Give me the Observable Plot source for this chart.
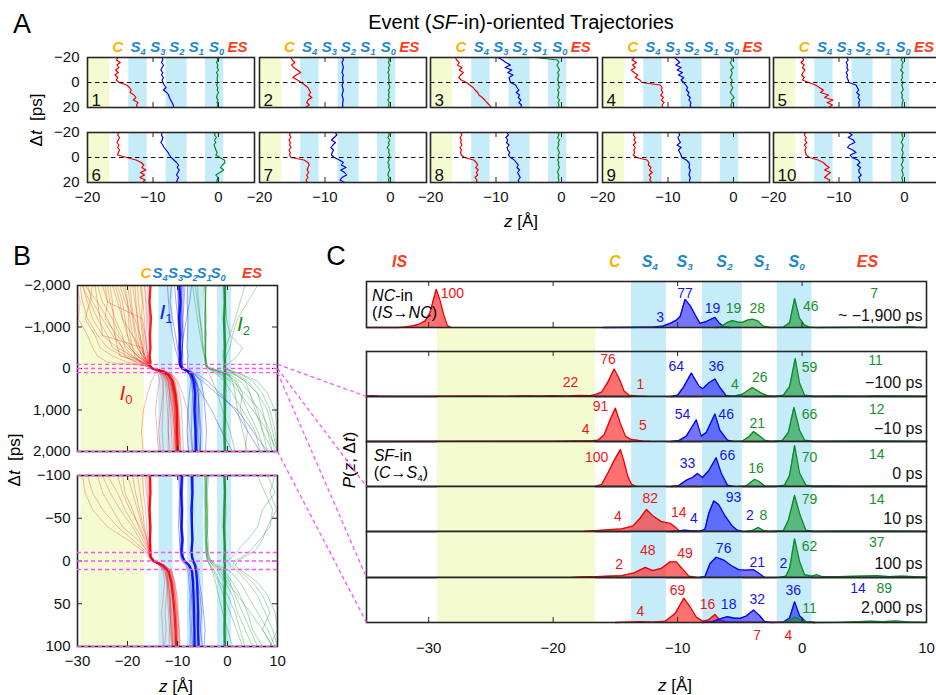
<!DOCTYPE html>
<html><head><meta charset="utf-8">
<script src="https://cdn.jsdelivr.net/npm/d3@7"></script>
<script src="https://cdn.jsdelivr.net/npm/@observablehq/plot@0.6"></script>
<style>
html,body{margin:0;padding:0;background:#fff;}
#fig{position:relative;width:936px;height:695px;overflow:hidden;font-family:"Liberation Sans",Arial,Helvetica,sans-serif;color:#000;}
#fig svg{position:absolute;overflow:visible;}
.t{position:absolute;white-space:nowrap;line-height:1.05;}
.st{font-weight:bold;font-style:italic;}
sub{font-size:62%;position:relative;top:0.3em;vertical-align:baseline;line-height:0;}
</style></head><body><div id="fig"></div>
<script>
// ---------------- data ----------------
const stateNames = ["C","S4","S3","S2","S1","S0","ES"];
const stateZA = [-15.3,-12.2,-9.2,-6.3,-3.3,-0.2,3.0];
const stateZB = [-16.2,-13.4,-10.3,-7.4,-4.6,-1.8,5.0];
const stateZC = [-15.0,-12.2,-9.4,-6.2,-3.2,-0.4,5.3];
const isZC = -32.3;

const zoneKinds = ["C","S4","S2","S0"];
const zoneZ1 = [-29.3,-13.7,-8.0,-2.0];
const zoneZ2 = [-16.6,-10.9,-4.8,0.8];

// Panel A: event-oriented trajectories, dt grid [ps]
const dtA = [-20,-18,-16,-14,-12,-10,-8,-6,-4,-2,0,2,4,6,8,10,12,14,16,18,20];
const trajA_red = [
 [-15.3,-15.6,-15.0,-15.5,-15.2,-15.7,-15.3,-15.8,-15.4,-15.6,-15.2,-14.0,-13.6,-13.3,-13.5,-12.9,-12.6,-13.0,-12.3,-12.5,-12.4],
 [-15.2,-15.0,-14.6,-15.1,-14.8,-14.2,-13.7,-14.4,-14.9,-14.2,-13.6,-13.1,-12.6,-12.4,-12.2,-12.5,-12.0,-12.6,-12.8,-12.4,-13.0],
 [-16.2,-16.0,-15.6,-15.9,-15.2,-15.6,-15.0,-15.4,-15.7,-15.3,-14.5,-14.0,-13.5,-13.2,-12.8,-12.6,-12.1,-11.7,-11.4,-11.0,-10.7],
 [-15.1,-15.5,-14.8,-15.4,-15.0,-15.6,-15.2,-14.6,-15.0,-14.3,-14.0,-11.2,-10.9,-11.0,-10.8,-11.1,-10.7,-11.0,-10.6,-10.9,-10.8],
 [-15.6,-15.4,-15.8,-15.3,-15.6,-15.2,-15.5,-15.7,-15.3,-15.6,-14.6,-13.6,-13.0,-12.4,-12.8,-11.6,-12.2,-10.9,-11.8,-11.0,-11.6],
 [-15.2,-15.4,-15.1,-15.3,-15.5,-15.2,-15.4,-15.1,-15.3,-15.4,-14.0,-12.6,-11.8,-11.4,-11.7,-11.1,-11.9,-11.3,-12.0,-11.2,-11.6],
 [-15.3,-15.4,-15.2,-15.5,-15.3,-15.4,-15.2,-15.5,-15.3,-15.4,-15.2,-13.2,-12.6,-12.4,-12.6,-12.7,-12.5,-12.8,-12.6,-12.9,-12.7],
 [-15.4,-15.2,-15.5,-15.3,-15.4,-15.2,-15.5,-15.3,-15.4,-15.3,-14.8,-13.4,-13.0,-12.8,-13.1,-12.7,-13.0,-12.8,-13.2,-12.9,-13.0],
 [-15.1,-15.3,-15.0,-15.2,-14.9,-15.3,-15.0,-15.2,-15.1,-15.3,-14.8,-13.2,-12.9,-13.0,-12.6,-12.8,-12.4,-12.9,-12.6,-12.8,-12.5],
 [-15.1,-15.3,-15.0,-15.2,-14.9,-15.3,-15.0,-15.2,-15.1,-15.0,-14.5,-13.2,-12.4,-12.0,-11.5,-12.2,-11.3,-11.8,-12.2,-11.4,-11.6]
];
const trajA_blue = [
 [-8.6,-8.5,-8.7,-8.4,-8.6,-8.8,-8.5,-8.7,-8.4,-8.6,-8.5,-8.3,-8.0,-8.4,-7.9,-7.6,-7.5,-7.3,-7.1,-6.9,-6.9],
 [-7.3,-7.2,-7.4,-7.3,-7.2,-7.3,-7.4,-7.2,-7.3,-7.3,-7.2,-7.4,-7.3,-7.2,-7.3,-7.4,-7.3,-7.2,-7.3,-7.3,-7.3],
 [-9.7,-9.0,-8.5,-7.8,-8.6,-7.6,-8.2,-7.4,-8.0,-7.9,-7.8,-7.0,-6.8,-6.5,-6.9,-6.4,-6.6,-6.2,-6.5,-6.1,-6.2],
 [-9.0,-8.6,-8.2,-8.8,-8.0,-8.6,-7.8,-8.4,-7.6,-8.0,-7.6,-7.3,-7.0,-7.2,-6.8,-7.0,-6.6,-6.8,-6.5,-6.6,-6.5],
 [-8.8,-8.6,-8.9,-8.7,-8.8,-8.6,-8.9,-8.7,-8.8,-8.6,-8.5,-7.4,-7.2,-7.0,-7.3,-6.9,-7.1,-6.8,-7.0,-6.9,-7.0],
 [-8.6,-8.7,-8.5,-8.6,-8.8,-8.5,-8.3,-8.0,-7.7,-7.5,-7.2,-6.8,-6.4,-6.1,-6.3,-6.0,-6.2,-6.4,-6.1,-6.3,-6.4],
 [-8.4,-8.2,-8.6,-9.0,-8.4,-8.8,-9.1,-8.7,-8.9,-9.0,-8.6,-7.8,-7.2,-7.5,-6.8,-7.6,-7.0,-6.7,-7.4,-7.7,-7.0],
 [-8.3,-8.1,-8.5,-8.2,-8.4,-8.0,-8.3,-8.2,-7.9,-8.1,-7.8,-7.2,-6.9,-6.6,-6.8,-6.4,-6.7,-6.5,-6.3,-6.6,-6.5],
 [-8.4,-8.2,-8.5,-8.3,-8.1,-8.6,-8.0,-8.4,-8.2,-8.0,-7.9,-7.2,-6.8,-6.7,-6.8,-6.6,-6.7,-6.8,-6.6,-6.7,-6.7],
 [-8.5,-8.0,-8.6,-7.8,-7.6,-8.4,-8.7,-7.9,-7.4,-8.3,-8.0,-7.1,-6.8,-7.2,-6.7,-7.0,-6.9,-6.6,-7.0,-6.8,-6.9]
];
const trajA_green = [
 [-0.2,-0.1,-0.3,-0.1,-0.2,0.0,-0.3,-0.1,-0.2,-0.2,-0.1,-0.3,-0.1,-0.2,0.0,-0.2,-0.3,-0.1,-0.2,-0.1,-0.2],
 [-0.3,-0.2,-0.3,-0.1,-0.3,-0.2,-0.4,-0.2,-0.3,-0.2,-0.3,-0.2,-0.1,-0.3,-0.2,-0.3,-0.2,-0.4,-0.2,-0.3,-0.2],
 [-4.0,-0.6,-0.4,-0.7,-0.5,-0.3,-0.6,-0.4,-0.5,-0.6,-0.4,-0.5,-0.3,-0.6,-0.4,-0.5,-0.6,-0.3,-0.5,-0.4,-0.5],
 [-0.4,-0.2,-0.5,-0.3,0.0,-0.4,-0.2,-0.3,-0.5,-0.2,-0.3,-0.4,-0.1,-0.3,-0.5,-0.2,0.1,-0.3,-0.2,-0.4,-0.3],
 [-0.3,-0.5,-0.2,-0.4,-0.3,-0.6,-0.2,-0.4,-0.3,-0.5,-0.2,-0.4,-0.3,-0.2,-0.5,-0.3,-0.4,-0.2,-0.3,-0.4,-0.3],
 [-0.5,-0.6,-0.3,-0.6,-0.4,-0.7,-0.5,-0.4,-0.2,-0.4,0.2,0.9,1.0,0.6,0.3,0.8,0.2,-0.4,-0.1,-0.2,-0.3],
 [-0.3,-0.2,-0.4,-0.1,-0.3,-0.2,-0.5,-0.2,-0.3,-0.1,-0.3,-0.2,-0.4,-0.2,-0.3,-0.1,-0.3,-0.4,-0.2,-0.3,-0.2],
 [-0.5,-0.4,-0.6,-0.3,-0.5,-0.4,-0.6,-0.5,-0.3,-0.5,-0.4,-0.6,-0.4,-0.5,-0.3,-0.5,-0.6,-0.4,-0.5,-0.4,-0.5],
 null,
 [-0.3,-0.4,-0.2,-0.3,-0.5,-0.2,-0.3,-0.4,-0.2,-0.3,-0.4,-0.2,-0.3,-0.5,-0.2,-0.4,-0.3,-0.2,-0.4,-0.3,-0.3]
];

// Panel B (upper, ±2,000 ps)
const dtBU = [-2000,-1600,-1200,-800,-500,-300,-150,-60,0,60,150,300,600,1000,1500,2000];
const trajBU_red = [
 [-29,-28,-27,-25,-22,-19,-17,-15.6,-15.0,-13.4,-12.2,-11.4,-10.8,-10.2,-9.9,-10.0],
 [-27,-27.5,-26,-24,-23,-20,-16.5,-15.5,-14.8,-13.0,-11.8,-11.0,-10.5,-10.3,-10.2,-10.1],
 [-25,-24,-24.5,-22,-20,-18,-16,-15.5,-15.1,-13.6,-12.6,-11.8,-11.2,-10.7,-10.4,-10.2],
 [-23,-22,-21,-20,-19,-17.5,-16.2,-15.4,-14.9,-12.8,-11.5,-10.8,-10.2,-9.8,-9.6,-9.7],
 [-21,-20,-19.5,-19,-18,-17,-16,-15.5,-15.2,-13.8,-12.8,-12.2,-11.6,-11.0,-10.6,-10.4],
 [-19,-18.5,-18,-17.5,-17,-16.5,-15.8,-15.4,-14.9,-13.1,-11.9,-11.2,-10.8,-10.5,-10.2,-10.3],
 [-17.5,-17,-17.2,-16.8,-16.5,-16.2,-15.7,-15.5,-15.0,-13.5,-12.4,-11.9,-11.5,-11.2,-10.9,-10.7],
 [-29.5,-29,-28,-26,-24,-21,-18,-15.6,-14.9,-12.9,-11.6,-10.9,-10.4,-10.1,-9.9,-10.0],
 [-26,-25,-23,-21.5,-19.5,-18,-16.4,-15.5,-15.0,-13.3,-12.0,-11.3,-10.7,-10.4,-10.3,-10.2],
 [-24,-23.5,-22.5,-21,-20.5,-19,-17,-15.5,-15.1,-14.0,-13.4,-13.0,-12.8,-12.9,-13.1,-12.8],
 [-22,-21,-20.5,-20,-19.5,-18,-16.5,-15.4,-14.8,-12.6,-11.2,-10.5,-10.0,-9.7,-9.5,-9.4],
 [-20,-19.5,-19,-18.5,-18,-17,-16,-15.5,-15.0,-13.6,-12.4,-11.8,-11.6,-11.7,-11.9,-11.5],
 [-16,-15.8,-15.6,-15.5,-15.5,-15.4,-15.5,-15.4,-14.9,-13.2,-12.0,-11.1,-10.6,-10.3,-10.1,-10.0],
 [-15.7,-15.6,-15.7,-15.5,-15.6,-15.5,-15.6,-15.5,-15.0,-13.0,-11.7,-10.9,-10.4,-10.1,-10.0,-9.9],
 [-28,-27,-25,-23,-21,-19.5,-17.2,-15.6,-15.1,-13.9,-13.2,-12.8,-12.9,-13.3,-13.8,-13.4],
 [-18,-17.8,-17.4,-17,-16.8,-16.6,-16,-15.4,-14.8,-12.4,-10.9,-10.1,-9.6,-9.2,-9.0,-8.8],
 [-30,-29.5,-29.8,-28,-27,-26,-24,-16,-15.2,-13.8,-12.5,-11.6,-11.0,-10.6,-10.4,-10.2],
 [-28.5,-26,-24,-22.5,-21,-20.5,-18.5,-16.2,-15.0,-13.0,-11.9,-11.3,-10.9,-10.6,-10.5,-10.3],
 [-26.5,-26,-25.5,-25,-17,-16.5,-16,-15.6,-15.1,-13.7,-12.9,-12.3,-11.9,-11.5,-11.2,-11.0],
 [-24.5,-24,-17,-16.5,-16.2,-16,-15.8,-15.5,-14.9,-13.0,-11.7,-10.9,-10.3,-10.0,-9.7,-9.5],
 [-23.5,-23,-22.8,-22.5,-22,-21.5,-17,-15.7,-15.2,-13.9,-13.0,-12.5,-12.2,-12.0,-11.8,-11.9],
 [-22.5,-21.5,-21,-19,-17.5,-16.5,-16,-15.6,-15.0,-13.3,-12.1,-11.5,-11.1,-10.9,-10.6,-10.8],
 [-21.5,-20.5,-18.5,-17.5,-17,-16.8,-16.2,-15.6,-15.1,-14.2,-13.8,-13.6,-14.0,-14.4,-14.1,-13.8],
 [-20.5,-20,-19.8,-19.5,-19,-18.5,-17.5,-15.8,-15.0,-13.2,-12.3,-11.6,-10.9,-10.4,-10.1,-9.8],
 [-19.5,-19.2,-18.8,-18.2,-17.6,-17.2,-16.5,-15.6,-14.8,-12.6,-11.2,-10.6,-10.2,-9.9,-9.6,-9.3],
 [-18.5,-18.3,-18,-17.8,-17.2,-16.8,-16.2,-15.6,-15.2,-13.7,-12.7,-12.0,-11.4,-10.9,-10.7,-10.5],
 [-17.2,-16.9,-16.6,-16.5,-16.2,-16,-15.8,-15.5,-14.9,-12.9,-11.4,-10.7,-10.2,-10.0,-9.9,-9.8],
 [-16.6,-16.4,-16.2,-16.3,-16.1,-15.9,-15.7,-15.5,-15.0,-13.4,-12.1,-11.3,-10.8,-10.6,-10.4,-10.3],
 [-16.5,-16.2,-16,-15.8,-15.7,-15.6,-15.5,-15.5,-15.0,-13.0,-11.5,-10.0,-9.0,-8.0,-7.5,-7.0],
 [-29,-27.5,-28.5,-26.5,-25.5,-23,-20,-16.4,-15.1,-14.3,-14.6,-15.2,-16.0,-16.8,-17.2,-16.9]
];
const trajBU_blue = [
 [-9.6,-9.4,-9.5,-9.3,-9.5,-9.4,-9.5,-9.3,-9.0,-8.0,-7.2,-6.8,-6.6,-6.5,-6.4,-6.3],
 [-9.2,-9.3,-9.1,-9.2,-9.0,-9.2,-9.1,-9.0,-8.7,-7.8,-7.0,-6.5,-6.2,-6.0,-6.1,-6.0],
 [-10.0,-9.8,-9.9,-9.7,-9.8,-9.7,-9.6,-9.6,-9.3,-8.4,-7.6,-7.1,-6.9,-6.8,-6.6,-6.7],
 [-8.8,-8.9,-9.0,-8.8,-9.1,-8.9,-9.0,-9.1,-8.8,-7.9,-7.0,-6.4,-5.9,-5.6,-5.3,-5.5],
 [-10.6,-10.3,-9.9,-9.7,-9.6,-9.5,-9.4,-9.3,-9.0,-8.1,-7.3,-6.5,-5.2,-3.2,-1.2,1.0],
 [-9.5,-9.6,-9.4,-9.5,-9.3,-9.4,-9.3,-9.2,-8.9,-7.9,-7.1,-6.7,-6.5,-6.6,-6.4,-6.5],
 [-9.0,-9.2,-9.4,-9.3,-9.5,-9.3,-9.2,-9.2,-8.9,-7.7,-6.6,-5.0,-2.2,2.0,5.0,8.0],
 [-9.8,-9.9,-9.6,-9.7,-9.5,-9.7,-9.6,-9.5,-9.2,-8.3,-7.6,-7.2,-7.0,-7.1,-7.2,-7.0],
 [-8.5,-8.7,-8.9,-9.1,-9.0,-9.2,-9.3,-9.2,-8.8,-7.7,-6.8,-6.1,-5.7,-5.8,-5.5,-5.4],
 [-9.3,-9.1,-9.2,-9.0,-9.1,-9.0,-9.1,-9.0,-8.7,-7.5,-6.0,-4.0,-1.5,1.5,4.0,6.5],
 [-12.0,-11.8,-11.5,-11.0,-10.5,-10.0,-9.7,-9.4,-9.1,-8.2,-7.4,-6.9,-6.5,-6.3,-6.3,-6.1],
 [-8.0,-8.1,-7.9,-8.0,-8.1,-7.9,-8.0,-8.0,-7.8,-7.2,-6.8,-6.5,-6.3,-6.2,-6.1,-6.2],
 [-11.2,-11.5,-11.0,-10.4,-10.0,-9.8,-9.6,-9.5,-9.2,-8.2,-7.5,-7.3,-7.6,-7.9,-8.1,-7.8],
 [-9.9,-9.7,-9.8,-9.6,-9.4,-9.6,-9.5,-9.4,-9.0,-7.6,-6.4,-5.4,-4.8,-4.5,-4.2,-4.4],
 [-7.2,-7.6,-8.2,-8.8,-9.1,-9.3,-9.2,-9.1,-8.8,-7.8,-6.9,-6.3,-5.9,-5.7,-5.9,-5.6]
];
const trajBU_green = [
 [-0.3,-0.4,-0.3,-0.5,-0.4,-0.3,-0.4,-0.4,-0.3,-0.2,-0.4,-0.3,-0.2,-0.4,-0.3,-0.4],
 [-0.9,-0.8,-0.9,-0.7,-0.8,-0.9,-0.8,-0.7,-0.8,-0.6,-0.9,-0.8,-0.7,-0.8,-0.9,-0.7],
 [-4.5,-4.3,-4.6,-4.4,-4.5,-4.3,-4.4,-4.2,-3.6,-2.0,0.5,2.5,4.5,6.0,7.0,8.0],
 [-4.8,-4.7,-4.5,-4.6,-4.4,-4.5,-4.2,-4.0,-3.2,-1.0,1.5,3.5,4.5,5.5,7.0,9.0],
 [-6.0,-5.8,-5.5,-5.0,-4.8,-4.6,-4.5,-4.3,-3.8,-2.2,0.0,1.8,3.0,2.5,4.0,3.5],
 [-4.2,-4.4,-4.3,-4.5,-4.3,-4.4,-4.3,-4.1,-3.5,-1.8,-0.2,1.5,2.5,5.0,8.0,10.0],
 [-0.5,-0.4,-0.2,0.5,3.0,2.0,0.5,-0.4,-0.4,0.2,1.5,3.5,6.0,8.0,9.0,10.0],
 [-7.0,-6.5,-6.0,-5.5,-5.0,-4.7,-4.5,-4.3,-3.6,-2.0,0.3,1.0,1.5,2.0,3.0,4.0],
 [-0.7,-0.5,-0.6,-0.4,-0.3,-0.6,-0.5,-0.5,-0.2,1.0,3.0,6.0,8.0,9.5,10.0,10.0],
 [6.0,4.0,2.0,1.0,0.5,-0.3,-0.5,-0.6,-0.5,0.5,2.0,4.0,6.0,7.0,8.0,9.0],
 [-4.4,-4.4,-4.3,-4.5,-4.4,-4.4,-4.3,-4.4,-4.2,-4.0,-3.6,-3.0,-2.0,-1.0,0.5,1.5],
 [-6.5,-6.0,-5.5,-5.2,-4.9,-4.6,-4.4,-4.2,-3.9,-3.0,-1.5,0.5,2.5,4.0,6.0,7.5],
 [-4.3,-4.5,-4.4,-4.2,-4.4,-4.5,-4.4,-4.3,-4.0,-3.2,-2.0,-0.6,1.0,3.0,5.5,6.5],
 [-4.6,-4.4,-4.5,-4.3,-4.6,-4.4,-4.2,-4.1,-3.7,-2.6,-1.0,1.0,3.5,6.5,8.5,9.5],
 [3.5,2.5,1.5,0.5,-0.4,-0.5,-0.6,-0.5,-0.4,0.8,2.8,5.0,7.0,8.5,9.5,10.0]
];
// dense bundles (where hundreds of trajectories overlap)
const coreBU_red = [[-15.4,-15.6,-15.3,-15.5,-15.4,-15.6,-15.4,-15.5,-15.0,-13.3,-11.8,-11.0,-10.5,-10.1,-10.1,-9.9]];
const coreBU_blue = [[-9.6,-9.4,-9.7,-9.5,-9.6,-9.4,-9.6,-9.4,-9.1,-8.1,-7.2,-6.8,-6.5,-6.6,-6.4,-6.3]];
const coreBU_green = [[-0.6,-0.5,-0.7,-0.6,-0.5,-0.6,-0.5,-0.6,-0.6,-0.5,-0.6,-0.5,-0.6,-0.5,-0.6,-0.5]];

// Panel B (lower, ±100 ps)
const dtBL = [-100,-80,-60,-40,-25,-12,-5,0,5,12,25,40,60,80,100];
const trajBL_red = [
 [-15.5,-15.4,-15.6,-15.5,-15.4,-15.5,-15.3,-14.8,-13.0,-12.0,-11.5,-11.2,-11.0,-10.8,-10.5],
 [-15.3,-15.5,-15.4,-15.6,-15.5,-15.4,-15.4,-14.5,-12.8,-11.6,-11.0,-10.6,-10.2,-10.0,-9.9],
 [-15.7,-15.6,-15.5,-15.4,-15.6,-15.5,-15.2,-14.6,-13.4,-12.4,-12.0,-12.2,-12.5,-12.3,-12.6],
 [-16.5,-16.2,-15.9,-15.7,-15.5,-15.4,-15.3,-14.7,-13.0,-11.8,-11.2,-10.8,-10.4,-10.2,-10.0],
 [-20,-19,-18,-17,-16.2,-15.6,-15.4,-14.9,-13.2,-12.0,-11.6,-11.3,-11.6,-11.2,-11.0],
 [-24,-22,-20.5,-18.5,-17,-15.8,-15.5,-14.8,-12.9,-11.5,-10.9,-10.5,-10.3,-10.1,-10.2],
 [-28,-27,-25,-22,-19,-16.5,-15.6,-15.0,-13.5,-12.5,-12.2,-11.8,-11.5,-11.3,-11.0],
 [-18,-17.5,-17,-16.6,-16,-15.6,-15.5,-14.6,-12.6,-11.3,-10.7,-10.4,-10.0,-9.7,-9.6],
 [-15.9,-15.8,-15.7,-15.6,-15.6,-15.5,-15.4,-14.4,-12.7,-11.7,-11.4,-11.0,-10.7,-10.6,-10.4],
 [-17,-16.8,-16.4,-16.2,-15.8,-15.6,-15.5,-15.0,-13.6,-12.8,-12.6,-12.8,-13.2,-13.0,-12.8],
 [-22,-21,-19.5,-17.5,-16.4,-15.7,-15.5,-14.7,-13.1,-11.9,-11.3,-11.1,-10.8,-10.9,-10.7],
 [-26,-25,-23,-21,-18,-16,-15.5,-14.9,-13.4,-12.2,-11.8,-11.5,-11.2,-11.0,-10.8],
 [-29,-28.5,-27,-24,-20,-17,-15.8,-15.1,-13.6,-12.6,-12.0,-11.6,-11.4,-11.1,-10.9],
 [-21,-20.5,-19,-17.8,-16.6,-15.8,-15.5,-14.6,-12.6,-11.2,-10.6,-10.2,-10.0,-9.8,-9.7],
 [-25,-23.5,-21.5,-19,-17.5,-16.2,-15.6,-15.0,-13.3,-12.3,-11.8,-11.6,-11.3,-11.5,-11.2],
 [-19,-18.4,-17.6,-16.8,-16.1,-15.6,-15.4,-14.5,-12.5,-11.1,-10.5,-10.1,-9.8,-9.6,-9.5],
 [-16.2,-16.0,-15.8,-15.6,-15.5,-15.4,-15.3,-14.7,-13.1,-12.1,-11.9,-12.0,-11.8,-11.6,-11.7],
 [-15.6,-15.5,-15.7,-15.5,-15.6,-15.5,-15.4,-14.6,-12.9,-11.4,-10.8,-10.5,-10.2,-10.1,-9.9]
];
const trajBL_blue = [
 [-9.2,-9.1,-9.3,-9.2,-9.1,-9.2,-9.0,-8.6,-7.8,-7.2,-7.0,-6.9,-6.8,-6.8,-6.7],
 [-9.0,-9.2,-9.0,-9.1,-9.2,-9.0,-8.9,-8.5,-7.6,-7.0,-6.8,-6.7,-6.5,-6.6,-6.4],
 [-9.4,-9.3,-9.5,-9.4,-9.3,-9.4,-9.2,-8.8,-7.9,-7.3,-7.1,-7.2,-7.0,-6.9,-7.0],
 [-7.2,-7.3,-7.0,-7.2,-7.1,-7.3,-7.2,-7.0,-6.6,-6.3,-6.1,-6.0,-5.8,-5.9,-5.7],
 [-7.0,-6.9,-7.1,-7.0,-7.2,-7.0,-7.1,-6.8,-6.4,-6.1,-5.9,-5.8,-5.6,-5.5,-5.6],
 [-8.8,-9.0,-8.9,-9.0,-8.8,-8.9,-8.8,-8.4,-7.5,-6.9,-6.6,-6.4,-6.3,-6.1,-6.2],
 [-9.6,-9.5,-9.6,-9.4,-9.5,-9.4,-9.3,-9.0,-8.2,-7.6,-7.4,-7.3,-7.3,-7.2,-7.1],
 [-7.4,-7.2,-7.4,-7.3,-7.2,-7.3,-7.2,-6.9,-6.5,-6.2,-6.0,-5.5,-5.2,-5.4,-5.0],
 [-9.1,-9.0,-9.2,-9.1,-9.0,-9.1,-9.0,-8.7,-7.7,-7.1,-6.9,-6.7,-6.6,-6.5,-6.6],
 [-6.8,-7.0,-6.9,-7.1,-6.9,-7.0,-6.9,-6.6,-6.2,-5.9,-5.6,-5.2,-4.8,-4.5,-4.7],
 [-9.8,-9.6,-9.7,-9.8,-9.6,-9.5,-9.4,-9.1,-8.4,-7.9,-7.7,-7.5,-7.6,-7.4,-7.5]
];
const trajBL_green = [
 [-0.4,-0.5,-0.3,-0.4,-0.5,-0.4,-0.3,-0.4,-0.5,-0.4,-0.3,-0.4,-0.5,-0.3,-0.4],
 [-0.8,-0.7,-0.8,-0.9,-0.7,-0.8,-0.7,-0.8,-0.7,-0.8,-0.9,-0.7,-0.8,-0.7,-0.8],
 [-4.2,-4.4,-4.1,-4.3,-4.2,-4.0,-3.8,-3.5,-2.5,-1.0,0.5,1.5,3.0,4.5,6.0],
 [-4.5,-4.3,-4.4,-4.2,-4.3,-4.1,-4.0,-3.6,-3.0,-2.0,-0.5,1.0,2.0,3.5,5.0],
 [-3.8,-4.0,-3.9,-4.1,-3.9,-3.8,-3.6,-3.2,-2.0,0.5,2.5,4.0,6.0,8.0,9.5],
 [-4.6,-4.7,-4.5,-4.6,-4.4,-4.3,-4.2,-4.0,-3.4,-2.5,-1.5,0.0,1.5,2.5,3.5],
 [8.0,9.5,7.0,6.0,4.0,2.0,1.0,0.0,0.5,2.0,4.0,6.0,7.5,9.0,10.0],
 [6.0,7.5,9.0,8.5,6.5,4.5,3.0,1.5,1.0,2.5,5.0,7.0,8.5,7.0,9.0],
 [-4.0,-4.2,-4.0,-3.9,-4.1,-4.0,-3.7,-3.3,-2.4,-0.5,1.0,2.5,4.0,5.0,7.0],
 [-4.3,-4.2,-4.4,-4.3,-4.2,-4.3,-4.1,-3.9,-3.5,-3.0,-2.4,-1.8,-1.0,0.0,1.0],
 [-4.1,-4.3,-4.2,-4.0,-4.2,-4.1,-4.0,-3.7,-2.8,-1.5,0.0,2.0,4.5,7.0,9.0],
 [-4.4,-4.5,-4.3,-4.4,-4.5,-4.3,-4.2,-4.0,-3.6,-2.8,-1.8,-0.8,0.5,1.8,3.0],
 [9.5,8.5,9.8,8.0,7.0,5.5,3.5,2.0,1.5,3.0,6.0,8.0,9.5,10.0,8.5]
];
const coreBL_red = [[-15.5,-15.4,-15.6,-15.4,-15.5,-15.4,-15.4,-14.8,-13.0,-11.8,-11.2,-10.9,-10.6,-10.4,-10.3]];
const coreBL_blue = [[-9.1,-9.3,-9.1,-9.2,-9.0,-9.2,-9.0,-8.6,-7.7,-7.1,-6.9,-6.8,-6.7,-6.6,-6.6],
                     [-7.1,-7.0,-7.2,-7.1,-7.0,-7.2,-7.1,-6.9,-6.5,-6.3,-6.1,-6.0,-5.9,-5.9,-5.8]];
const coreBL_green = [[-0.6,-0.5,-0.6,-0.7,-0.6,-0.5,-0.6,-0.6,-0.5,-0.6,-0.5,-0.6,-0.5,-0.6,-0.5]];

// Panel C: distributions P(z; dt), [z, height in % of row]
const rowLabels = ["~ −1,900 ps","−100 ps","−10 ps","0 ps","10 ps","100 ps","2,000 ps"];
const rowLabelH = [26,30,28,29,27,29,33];
const dens0 = {
 red:[[-35,0],[-32.5,0],[-32,1],[-31.4,3],[-30.8,7],[-30.3,14],[-29.9,32],[-29.4,83],[-29.1,60],[-28.8,28],[-28.5,4],[-28.2,0]],
 blue:[[-16,0],[-13,0.5],[-12,1],[-11.2,3],[-10.6,9],[-10.1,16],[-9.8,24],[-9.4,61],[-9.0,48],[-8.6,28],[-8.2,9],[-7.7,13],[-7.0,22],[-6.7,11],[-6.3,2],[-5.8,0]],
 green:[[-7,0],[-6.5,2],[-6.0,11],[-5.6,15],[-5.2,12],[-4.8,11],[-4.4,16],[-4.0,18],[-3.6,15],[-3.1,3],[-2.5,0],[-1.5,1],[-1.0,10],[-0.6,63],[-0.2,20],[0.2,5],[0.6,1],[1.2,0],[4,0.5],[6,1],[7.5,0.5],[8.6,2],[9.2,0.5],[10,0]]
};
const dens1 = {
 red:[[-35,1],[-34.5,2],[-34,1],[-33,0.5],[-30,0.5],[-26,1],[-24,0.5],[-22,1.5],[-21,1],[-20,2],[-19,1],[-18,2.5],[-17,2],[-16.6,4],[-16.1,10],[-15.6,32],[-15.1,61],[-14.7,40],[-14.3,12],[-13.9,3],[-13.2,1],[-12.5,0]],
 blue:[[-10.5,0],[-10.0,3],[-9.5,22],[-8.9,52],[-8.3,24],[-8.0,17],[-7.5,30],[-7.0,39],[-6.6,20],[-6.1,2],[-5.6,0]],
 green:[[-5.8,0],[-5.3,2],[-4.8,5],[-4.0,20],[-3.3,8],[-2.8,2],[-2.2,0.5],[-1.5,3],[-1.0,22],[-0.55,84],[-0.2,30],[0.2,3],[1,0.5],[3,1],[5,0.5],[6,1.5],[8,1],[10,0.5]]
};
const dens2 = {
 red:[[-35,0],[-20,0.5],[-18,1.2],[-17,1.5],[-16.4,3],[-15.9,15],[-15.4,50],[-15.0,74],[-14.6,40],[-14.2,12],[-13.8,5],[-13.3,3],[-12.8,1],[-12.2,0]],
 blue:[[-10.5,0],[-9.9,2],[-9.3,12],[-8.9,30],[-8.5,48],[-8.1,12],[-7.7,20],[-7.0,61],[-6.6,25],[-6.0,3],[-5.5,0]],
 green:[[-5.5,0],[-4.8,1],[-4.3,10],[-3.9,22],[-3.4,12],[-3.0,3],[-2.5,0.5],[-1.6,2],[-1.1,20],[-0.65,76],[-0.2,25],[0.2,3],[1,0.5],[4,1],[7,1],[10,0.5]]
};
const dens3 = {
 red:[[-16.6,0],[-16.1,5],[-15.6,30],[-15.1,58],[-14.6,82],[-14.3,55],[-14.0,22],[-13.7,5],[-13.3,0]],
 blue:[[-10.5,0],[-9.9,2],[-9.3,14],[-8.8,20],[-8.4,29],[-8.0,20],[-7.5,35],[-6.9,64],[-6.5,30],[-6.0,3],[-5.5,0]],
 green:[[-5,0],[-4.5,1],[-4.1,10],[-3.8,16],[-3.4,10],[-3.0,1],[-2.0,0.5],[-1.4,3],[-1.0,25],[-0.6,91],[-0.2,30],[0.3,3],[1,1],[2,1.5],[4,0.5],[6,1],[8,1],[10,0.5]]
};
const dens4 = {
 red:[[-17.5,0],[-16.5,2],[-15.5,4],[-14.5,6],[-13.6,12],[-13.0,30],[-12.5,49],[-12.0,35],[-11.3,22],[-10.6,18],[-10.2,10],[-9.9,2],[-9.5,0]],
 blue:[[-10.5,0],[-10.0,1],[-9.5,3],[-9.0,2],[-8.2,1],[-7.8,5],[-7.5,40],[-7.1,68],[-6.7,60],[-6.2,35],[-5.6,12],[-5.2,3],[-4.8,0]],
 green:[[-4.5,0],[-4.0,2],[-3.5,9],[-3.1,2],[-2.6,0],[-1.5,2],[-1.1,25],[-0.6,80],[-0.2,40],[0.3,3],[1,0.5],[3,1],[5,1],[7,1],[10,0.5]]
};
const dens5 = {
 red:[[-18.5,0],[-17.5,1.5],[-16.5,2],[-15.5,3],[-14.5,4],[-13.5,10],[-12.6,22],[-12.0,15],[-11.3,20],[-10.6,34],[-10.1,34],[-9.6,18],[-9.1,3],[-8.5,0]],
 blue:[[-8.2,0],[-7.8,2],[-7.4,30],[-6.9,44],[-6.3,38],[-5.7,26],[-5.1,17],[-4.5,16],[-3.9,17],[-3.4,8],[-3.0,0]],
 green:[[-1.8,0],[-1.3,3],[-1.0,20],[-0.6,84],[-0.2,35],[0.2,6],[0.8,3],[1.2,6],[1.6,2],[3,2],[4.5,3],[6,4],[7,2],[8,3],[10,1]]
};
const dens6 = {
 red:[[-15,0],[-14,1],[-13,2],[-12,1],[-11,3],[-10.2,20],[-9.5,54],[-9.0,35],[-8.5,12],[-8.0,3],[-7.5,6],[-7.0,18],[-6.6,5],[-6.0,1],[-4,1],[-2,0.5],[-1,1],[0,0.5],[1,0]],
 blue:[[-8,0],[-7.2,2],[-6.6,8],[-6.0,13],[-5.5,10],[-5.0,9],[-4.5,14],[-3.9,28],[-3.4,15],[-3.0,2],[-2.5,0],[-1.5,1],[-1.0,10],[-0.6,46],[-0.2,15],[0.3,2],[1,0]],
 green:[[-1.5,0],[-1.0,4],[-0.6,12],[-0.2,8],[0.3,2],[1,0],[3,0.5],[4.5,2],[5.5,3],[6.5,2],[7.5,3.5],[8.5,1.5],[10,0.5]]
};
// peak annotations: [text, series, z, height]
const labC0 = [["100","red",-28.1,74],["3","blue",-11.4,22],["77","blue",-9.4,74],["19","blue",-7.2,41],["19","green",-5.5,41],["28","green",-3.6,41],["46","green",0.7,46],["7","green",5.8,74]];
const labC1 = [["22","red",-18.6,32],["76","red",-15.6,82],["1","red",-13.0,27],["64","blue",-10.1,66],["36","blue",-6.9,66],["4","green",-5.4,27],["26","green",-3.4,43],["59","green",0.6,64],["11","green",5.9,80]];
const labC2 = [["4","red",-17.4,26],["91","red",-16.2,78],["5","red",-12.8,35],["54","blue",-9.6,61],["46","blue",-6.1,61],["21","green",-3.6,41],["66","green",0.6,61],["12","green",6.0,72]];
const labC3 = [["100","red",-16.5,64],["33","blue",-9.2,51],["66","blue",-6.0,69],["16","green",-3.7,40],["70","green",0.6,64],["14","green",6.0,71]];
const labC4 = [["4","red",-14.8,33],["82","red",-12.2,73],["14","red",-9.9,42],["4","blue",-8.7,29],["93","blue",-5.5,76],["2","blue",-4.2,36],["8","green",-3.1,36],["79","green",0.6,71],["14","green",6.0,71]];
const labC5 = [["2","red",-14.7,29],["48","red",-12.4,58],["49","red",-9.4,53],["76","blue",-6.3,64],["21","blue",-3.6,33],["2","blue",-1.5,31],["62","green",0.6,67],["37","green",6.0,76]];
const labC6 = [["4","red",-13.0,24],["69","red",-10.0,70],["16","red",-7.6,39],["18","blue",-5.9,39],["32","blue",-3.6,52],["36","blue",-0.7,70],["11","green",0.6,30],["14","blue",4.5,76],["89","green",6.6,76],["7","red",-3.6,-28],["4","red",-1.1,-28]];
// time slices of panel B linked to rows of panel C
const linkDt = [-100, 0, 100, 2000];
const linkRow = [1, 3, 5, 6];

// ---------------- styling ----------------
const FONT = '"Liberation Sans", Arial, Helvetica, sans-serif';
const LINE = {red:"#ee0000", blue:"#0000ee", green:"#0a8a24"};
const FILL = {red:"#ff1a1a", blue:"#2020ff", green:"#139a36"};
const TXT = {red:"#f01515", blue:"#1515ee", green:"#16912e"};
const YELLOW = "#f5fbd1", CYAN = "#c5ecf8", MAGENTA = "#ff50ff", FRAME = "#262626";
const SCOL = {C:"#f8b400", S:"#1c86cc", ES:"#ff3c1c", IS:"#ff3c1c"};
const fmt = d3.format(",");
const fig = document.getElementById("fig");

function style(size) { return {fontFamily: FONT, fontSize: size + "px", overflow: "visible", background: "transparent", color: "#111"}; }
function put(p, frameLeft, frameTop, mL, mT) {
  p.style.left = (frameLeft - mL) + "px";
  p.style.top = (frameTop - mT) + "px";
  fig.appendChild(p);
  return p;
}
function mapper(p, name) { const s = p.scale(name); return d3.scaleLinear(s.domain, s.range); }
function txt(html, x, y, size, o = {}) {
  const d = document.createElement("div");
  d.className = "t" + (o.cls ? " " + o.cls : "");
  d.innerHTML = html;
  const ax = o.anchor === "start" ? "0" : o.anchor === "end" ? "-100%" : "-50%";
  d.style.left = x + "px"; d.style.top = y + "px"; d.style.fontSize = size + "px";
  if (o.color) d.style.color = o.color;
  d.style.transform = `translate(${ax},-50%)` + (o.rot ? ` rotate(${o.rot}deg)` : "");
  fig.appendChild(d);
  return d;
}
function stateHTML(n) {
  if (n === "C") return `<span class="st" style="color:${SCOL.C}">C</span>`;
  if (n === "ES" || n === "IS") return `<span class="st" style="color:${SCOL.ES}">${n}</span>`;
  return `<span class="st" style="color:${SCOL.S}">S<sub>${n.slice(1)}</sub></span>`;
}
function zoneMarks(y1, y2, withYellow) {
  return [
    withYellow ? Plot.rect([0], {x1: k => zoneZ1[k], x2: k => zoneZ2[k], y1, y2, fill: YELLOW, clip: true}) : null,
    Plot.rect([1, 2, 3], {x1: k => zoneZ1[k], x2: k => zoneZ2[k], y1, y2, fill: CYAN, clip: true})
  ];
}
function flat(grid, trajs) { return trajs.flatMap((zs, id) => zs.map((z, j) => ({id, z, t: grid[j]}))); }

// ---------------- Panel A ----------------
txt("A", 22, 24, 27);
txt("Event (<i>SF</i>-in)-oriented Trajectories", 521, 22, 20);
const A_W = 167, A_H = 50;
for (let i = 0; i < 10; i++) {
  const r = Math.floor(i / 5), c = i % 5;
  const fl = 87 + c * 171.6, ft = r ? 132 : 57;
  const mL = 45, mR = 6, mT = 6, mB = 30;
  const series = [["red", trajA_red[i]], ["blue", trajA_blue[i]], ["green", trajA_green[i]]].filter(d => d[1]);
  const marks = [
    ...zoneMarks(-20, 20, true),
    ...series.map(([col, zs]) => Plot.line(dtA.map((t, j) => ({t, z: zs[j]})), {x: "z", y: "t", stroke: LINE[col], strokeWidth: 1.2, clip: true})),
    Plot.ruleY([0], {stroke: "#111", strokeDasharray: "4.5,3.5", strokeWidth: 1.1}),
    Plot.ruleX([-20, -10, 0], {stroke: FRAME, insetTop: A_H - 5}),
    Plot.ruleX([-20, -10, 0], {stroke: FRAME, insetBottom: A_H - 5}),
    Plot.frame({stroke: FRAME, strokeWidth: 1.6}),
    Plot.text([String(i + 1)], {text: d => d, frameAnchor: "bottom-left", textAnchor: "start", lineAnchor: "bottom", dx: 4, dy: -2, fontSize: 17, fill: "#111"}),
    r === 1 ? Plot.axisX({ticks: [-20, -10, 0], tickSize: 0, tickPadding: 9, tickFormat: fmt, label: null}) : null,
    c === 0 ? Plot.axisY({ticks: [-20, 0, 20], tickSize: 0, tickPadding: 8, tickFormat: fmt, label: null}) : null
  ].filter(Boolean);
  const p = Plot.plot({
    width: A_W + mL + mR, height: A_H + mT + mB,
    marginLeft: mL, marginRight: mR, marginTop: mT, marginBottom: mB,
    x: {domain: [-20, 5.5], axis: null}, y: {domain: [20, -20], axis: null},
    style: style(15), marks
  });
  put(p, fl, ft, mL, mT);
  if (r === 0) {
    const xm = mapper(p, "x");
    stateNames.forEach((n, k) => txt(stateHTML(n), fl - mL + xm(stateZA[k]), 47, 15));
  }
}
txt("Δ<i>t</i>&nbsp; [ps]", 37, 120, 17, {rot: -90});
txt("<i>z</i> [Å]", 521, 222, 17);

// ---------------- Panel B ----------------
txt("B", 22, 256, 27);
const B_L = 77, B_W = 200;
function panelB(top, h, dom, grid, reds, blues, greens, cores, yTicks, magenta, showX) {
  const mL = 60, mR = 10, mT = 10, mB = showX ? 35 : 10;
  const thin = (data, col, op) => Plot.line(flat(grid, data), {x: "z", y: "t", z: "id", stroke: LINE[col], strokeOpacity: op, strokeWidth: 0.85, clip: true});
  const thick = (data, col) => Plot.line(flat(grid, data), {x: "z", y: "t", z: "id", stroke: LINE[col], strokeOpacity: 0.85, strokeWidth: 2.3, clip: true});
  const marks = [
    ...zoneMarks(dom[0], dom[1], true),
    thin(reds, "red", 0.33), thin(blues, "blue", 0.4), thin(greens, "green", 0.4),
    thick(cores.red, "red"), thick(cores.blue, "blue"), thick(cores.green, "green"),
    Plot.ruleX([-20, -10, 0], {stroke: FRAME, insetTop: h - 5}),
    Plot.ruleX([-20, -10, 0], {stroke: FRAME, insetBottom: h - 5}),
    Plot.ruleY(yTicks, {stroke: FRAME, insetRight: B_W - 5}),
    Plot.ruleY(yTicks, {stroke: FRAME, insetLeft: B_W - 5}),
    Plot.frame({stroke: FRAME, strokeWidth: 1.6}),
    Plot.ruleY(magenta, {stroke: MAGENTA, strokeDasharray: "4,3", strokeWidth: 1.4}),
    Plot.axisY({ticks: yTicks, tickSize: 0, tickPadding: 7, tickFormat: fmt, label: null}),
    showX ? Plot.axisX({ticks: [-30, -20, -10, 0, 10], tickSize: 0, tickPadding: 9, tickFormat: fmt, label: null}) : null
  ].filter(Boolean);
  const p = Plot.plot({
    width: B_W + mL + mR, height: h + mT + mB,
    marginLeft: mL, marginRight: mR, marginTop: mT, marginBottom: mB,
    x: {domain: [-30, 10], axis: null}, y: {domain: dom, axis: null},
    style: style(15), marks
  });
  put(p, B_L, top, mL, mT);
  return {p, mL, mT};
}
const BU = panelB(285, 166, [2000, -2000], dtBU, trajBU_red, trajBU_blue, trajBU_green,
  {red: coreBU_red, blue: coreBU_blue, green: coreBU_green}, [-2000, -1000, 0, 1000, 2000], [-100, 0, 100, 2000], false);
const BL = panelB(475, 171, [100, -100], dtBL, trajBL_red, trajBL_blue, trajBL_green,
  {red: coreBL_red, blue: coreBL_blue, green: coreBL_green}, [-100, -50, 0, 50, 100], [-100, -10, 0, 10, 100], true);
{
  const xm = mapper(BU.p, "x"), ym = mapper(BU.p, "y");
  const ox = B_L - BU.mL, oy = 285 - BU.mT;
  stateNames.forEach((n, k) => txt(stateHTML(n), ox + xm(stateZB[k]), 273, 15));
  txt(`<i>I</i><sub>1</sub>`, ox + xm(-12.2), oy + ym(-1350), 21, {color: TXT.blue});
  txt(`<i>I</i><sub>2</sub>`, ox + xm(3.3), oy + ym(-1050), 21, {color: TXT.green});
  txt(`<i>I</i><sub>0</sub>`, ox + xm(-20.2), oy + ym(600), 21, {color: TXT.red});
}
txt("Δ<i>t</i>&nbsp; [ps]", 15, 460, 17, {rot: -90});
txt("<i>z</i> [Å]", 176, 687, 17);

// ---------------- Panel C ----------------
txt("C", 336, 256, 27);
const C_L = 366, C_W = 560;
const cTop = [281, 351, 396, 441, 486, 531, 577];
const cH = [46, 45, 45, 45, 45, 46, 45];
const densC = [dens0, dens1, dens2, dens3, dens4, dens5, dens6];
const labC = [labC0, labC1, labC2, labC3, labC4, labC5, labC6];
let cx = null;
{
  const mL = 10;
  const p = Plot.plot({width: C_W + 20, height: 24, marginLeft: mL, marginRight: 10, marginTop: 0, marginBottom: 0,
    x: {domain: [-35, 10], axis: null}, y: {domain: [0, 100], axis: null}, style: style(14),
    marks: zoneMarks(0, 100, true).filter(Boolean)});
  put(p, C_L, 327, mL, 0);
}
for (let k = 0; k < 7; k++) {
  const h = cH[k], mL = 10, mR = 10, mT = 10, mB = k === 6 ? 45 : 10;
  const dens = densC[k];
  const tickTop = (k === 0 || k === 1) ? Plot.ruleX([-30, -20, -10, 0], {stroke: FRAME, insetBottom: h - 5}) : null;
  const tickBot = (k === 0 || k === 6) ? Plot.ruleX([-30, -20, -10, 0], {stroke: FRAME, insetTop: h - 5}) : null;
  const marks = [
    ...zoneMarks(0, 100, k > 0),
    ...["red", "blue", "green"].flatMap(col => [
      Plot.areaY(dens[col], {x: d => d[0], y: d => d[1], fill: FILL[col], fillOpacity: 0.62}),
      Plot.lineY(dens[col], {x: d => d[0], y: d => d[1], stroke: LINE[col], strokeWidth: 1.3})
    ]),
    ...["red", "blue", "green"].map(col => Plot.text(labC[k].filter(d => d[1] === col), {x: d => d[2], y: d => d[3], text: d => d[0], fill: TXT[col], fontSize: 14})),
    Plot.text([rowLabels[k]], {text: d => d, y: () => rowLabelH[k], frameAnchor: "right", textAnchor: "end", dx: -4, fontSize: 16, fill: "#111"}),
    tickTop, tickBot,
    Plot.frame({stroke: FRAME, strokeWidth: 1.6}),
    k === 6 ? Plot.axisX({ticks: [-30, -20, -10, 0, 10], tickSize: 0, tickPadding: 20, tickFormat: fmt, label: null}) : null
  ].filter(Boolean);
  const p = Plot.plot({
    width: C_W + mL + mR, height: h + mT + mB,
    marginLeft: mL, marginRight: mR, marginTop: mT, marginBottom: mB,
    x: {domain: [-35, 10], axis: null}, y: {domain: [0, 100], axis: null},
    style: style(15), marks
  });
  put(p, C_L, cTop[k], mL, mT);
  if (k === 0) {
    const xm = mapper(p, "x");
    cx = z => C_L - mL + xm(z);
    stateNames.forEach((n, j) => txt(stateHTML(n), cx(stateZC[j]), 262, 16));
    txt(stateHTML("IS"), cx(isZC), 262, 16);
    txt("<i>NC</i>-in<br>(<i>IS</i>→<i>NC</i>)", cx(-31.9), 305, 16);
  }
  if (k === 3) txt("<i>SF</i>-in<br>(<i>C</i>→<i>S</i><sub>4</sub>)", cx(-32.2), 465, 16);
}
txt("<i>P</i>(<i>z</i>; Δ<i>t</i>)", 350, 460, 17, {rot: -90});
txt("<i>z</i> [Å]", 675, 686, 17);

// ---------------- connectors B -> C ----------------
{
  const ym = mapper(BU.p, "y");
  const oy = 285 - BU.mT;
  const links = linkDt.map((dt, j) => ({x1: B_L + B_W, y1: oy + ym(dt), x2: C_L, y2: cTop[linkRow[j]] + cH[linkRow[j]]}));
  const ov = Plot.plot({width: 936, height: 695, margin: 0,
    x: {domain: [0, 936], range: [0, 936], axis: null}, y: {domain: [0, 695], range: [0, 695], axis: null},
    style: style(10),
    marks: [Plot.link(links, {x1: "x1", y1: "y1", x2: "x2", y2: "y2", stroke: MAGENTA, strokeDasharray: "4,3", strokeWidth: 1.3})]});
  ov.style.pointerEvents = "none";
  put(ov, 0, 0, 0, 0);
}
</script></body></html>
